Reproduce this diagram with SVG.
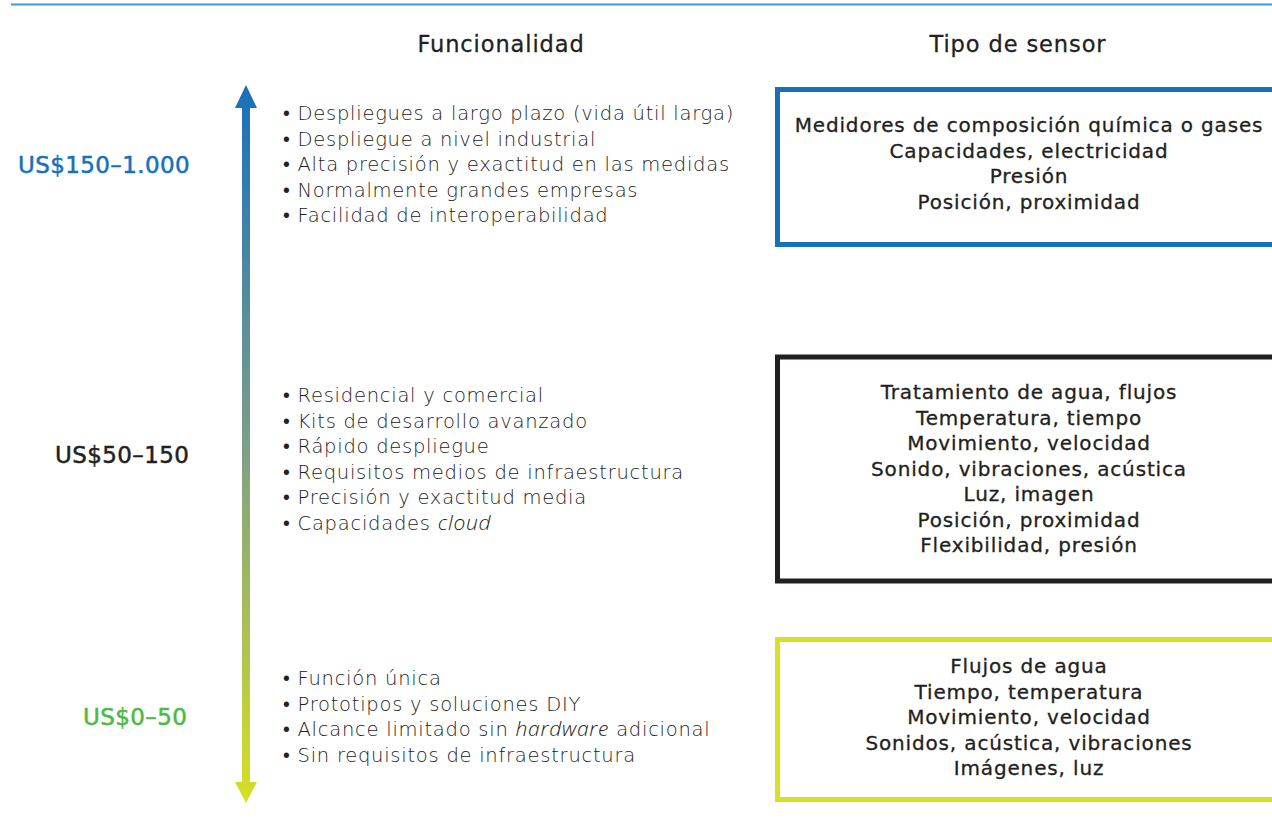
<svg xmlns="http://www.w3.org/2000/svg" width="1272" height="824" viewBox="0 0 1272 824">
<style>
.hdr{font-family:"DejaVu Sans","Liberation Sans",sans-serif;font-size:22.5px;font-weight:normal;letter-spacing:0.9px;fill:#231f20;stroke:#231f20;stroke-width:0.3px;text-anchor:middle}
.bul{font-family:"DejaVu Sans","Liberation Sans",sans-serif;font-size:19.5px;font-weight:200;letter-spacing:0.75px;fill:#222}
.it{font-family:"Open Sans","Liberation Sans",sans-serif;font-style:italic;font-weight:300;font-size:21px}
.box{font-family:"DejaVu Sans","Liberation Sans",sans-serif;font-size:20px;font-weight:normal;letter-spacing:0.85px;fill:#231f20;stroke:#231f20;stroke-width:0.3px;text-anchor:middle}
.price{font-family:"DejaVu Sans","Liberation Sans",sans-serif;font-size:23px;font-weight:normal;letter-spacing:0.4px;stroke-width:0.5px}
.frame{fill:#fff;stroke-width:5}
</style>
<defs>
<linearGradient id="g" x1="0" y1="85" x2="0" y2="803" gradientUnits="userSpaceOnUse">
<stop offset="0" stop-color="#1670bb"/>
<stop offset="0.5" stop-color="#7d9e88"/>
<stop offset="1" stop-color="#d6e025"/>
</linearGradient>
</defs>
<line x1="11" y1="4.5" x2="1272" y2="4.5" stroke="#3a9ad6" stroke-width="2"/>
<text class="hdr" x="501" y="52">Funcionalidad</text>
<text class="hdr" x="1018" y="52">Tipo de sensor</text>
<g id="connectors">
<path d="M242,106 H250 V784 H242 Z M235,108 L246,85 L257,108 Z M235,782 L257,782 L246,803 Z" fill="url(#g)"/>
</g>
<g id="tier-high">
<text class="price" x="18" y="173" fill="#1670bb" stroke="#1670bb">US$150–1.000</text>
<text class="bul" x="283"><tspan x="283" y="120">• Despliegues a largo plazo (vida útil larga)</tspan><tspan x="283" y="145.5">• Despliegue a nivel industrial</tspan><tspan x="283" y="171">• Alta precisión y exactitud en las medidas</tspan><tspan x="283" y="196.5">• Normalmente grandes empresas</tspan><tspan x="283" y="222">• Facilidad de interoperabilidad</tspan></text>
<rect class="frame" x="777.5" y="89.5" width="510" height="155" stroke="#1670bb"/>
<text class="box"><tspan x="1029" y="132">Medidores de composición química o gases</tspan><tspan x="1029" y="157.5">Capacidades, electricidad</tspan><tspan x="1029" y="183">Presión</tspan><tspan x="1029" y="208.5">Posición, proximidad</tspan></text>
</g>
<g id="tier-mid">
<text class="price" x="55" y="463" fill="#231f20" stroke="#231f20">US$50–150</text>
<text class="bul"><tspan x="283" y="402">• Residencial y comercial</tspan><tspan x="283" y="427.5">• Kits de desarrollo avanzado</tspan><tspan x="283" y="453">• Rápido despliegue</tspan><tspan x="283" y="478.5">• Requisitos medios de infraestructura</tspan><tspan x="283" y="504">• Precisión y exactitud media</tspan><tspan x="283" y="529.5">• Capacidades <tspan class="it">cloud</tspan></tspan></text>
<rect class="frame" x="777.5" y="357" width="510" height="224" stroke="#231f20"/>
<text class="box"><tspan x="1029" y="399">Tratamiento de agua, flujos</tspan><tspan x="1029" y="424.5">Temperatura, tiempo</tspan><tspan x="1029" y="450">Movimiento, velocidad</tspan><tspan x="1029" y="475.5">Sonido, vibraciones, acústica</tspan><tspan x="1029" y="501">Luz, imagen</tspan><tspan x="1029" y="526.5">Posición, proximidad</tspan><tspan x="1029" y="552">Flexibilidad, presión</tspan></text>
</g>
<g id="tier-low">
<text class="price" x="83" y="725" fill="#4db848" stroke="#4db848">US$0–50</text>
<text class="bul"><tspan x="283" y="685">• Función única</tspan><tspan x="283" y="710.5">• Prototipos y soluciones DIY</tspan><tspan x="283" y="736">• Alcance limitado sin <tspan class="it">hardware</tspan> adicional</tspan><tspan x="283" y="761.5">• Sin requisitos de infraestructura</tspan></text>
<rect class="frame" x="777.5" y="639.5" width="510" height="160" stroke="#d6e025"/>
<text class="box"><tspan x="1029" y="673">Flujos de agua</tspan><tspan x="1029" y="698.5">Tiempo, temperatura</tspan><tspan x="1029" y="724">Movimiento, velocidad</tspan><tspan x="1029" y="749.5">Sonidos, acústica, vibraciones</tspan><tspan x="1029" y="775">Imágenes, luz</tspan></text>
</g>
</svg>
